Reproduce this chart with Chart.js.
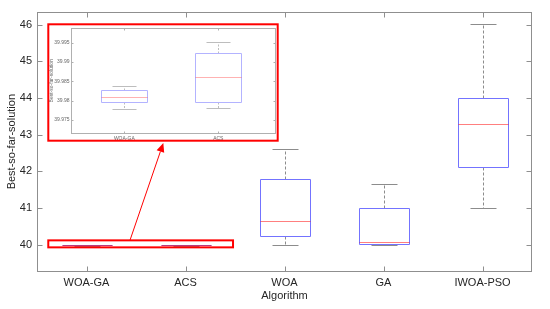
<!DOCTYPE html>
<html>
<head>
<meta charset="utf-8">
<script src="https://cdn.jsdelivr.net/npm/chart.js@4.4.0/dist/chart.umd.min.js"></script>
<style>
  body { margin: 0; background: #fff; }
  #wrap { position: relative; width: 550px; height: 309px; }
  #main { position: absolute; left: 0; top: 0; }
  #inset { position: absolute; left: 47px; top: 23px; background: #fff; }
</style>
</head>
<body>
<div id="wrap">
  <canvas id="main" width="550" height="309"></canvas>
  <canvas id="inset" width="232" height="119"></canvas>
</div>
<script>
//-------------------------- dados --------------------------
const algorithms = ["WOA-GA", "ACS", "WOA", "GA", "IWOA-PSO"];
const whiskerLow = [39.9778, 39.9780, 39.99, 40.0, 41.0];
const q1 = [39.9797, 39.9797, 40.245, 40.01, 42.13];
const median = [39.9809, 39.9861, 40.65, 40.065, 43.29];
const q3 = [39.9828, 39.9923, 41.8, 40.99, 44.0];
const whiskerHigh = [39.9837, 39.9952, 42.6, 41.65, 46.03];

const yTicks = [40, 41, 42, 43, 44, 45, 46];
const insetCategories = ["WOA-GA", "ACS"];
const insetTicks = [39.975, 39.98, 39.985, 39.99, 39.995];

const FONT = "'Liberation Sans', Arial, Helvetica, sans-serif";

// alinha linhas de 1px ao centro do pixel
const snap = (v) => Math.round(v) + 0.5;

//-------------------------- plugin boxplot --------------------------
const boxPlot = {
    id: "boxPlot",
    afterDatasetsDraw(chart, args, opts) {
        const { ctx, chartArea: area } = chart;
        const x = chart.scales.x;
        const y = chart.scales.y;

        ctx.save();
        ctx.beginPath();
        ctx.rect(area.left, area.top, area.right - area.left, area.bottom - area.top);
        ctx.clip();

        for (let i = 0; i < opts.count; i++) {
            const cx = snap(x.getPixelForValue(i + 1));
            const half = Math.round(x.getPixelForValue(i + 1.25) - x.getPixelForValue(i + 1));
            const capHalf = Math.round(half / 2);
            const yLow = snap(y.getPixelForValue(whiskerLow[i]));
            const yQ1 = snap(y.getPixelForValue(q1[i]));
            const yMed = snap(y.getPixelForValue(median[i]));
            const yQ3 = snap(y.getPixelForValue(q3[i]));
            const yHigh = snap(y.getPixelForValue(whiskerHigh[i]));

            // bigodes
            ctx.strokeStyle = opts.whiskerColor;
            ctx.lineWidth = 1;
            ctx.setLineDash(opts.dash);
            ctx.beginPath();
            ctx.moveTo(cx, yQ3);
            ctx.lineTo(cx, yHigh);
            ctx.moveTo(cx, yQ1);
            ctx.lineTo(cx, yLow);
            ctx.stroke();
            ctx.setLineDash([]);

            ctx.beginPath();
            ctx.moveTo(cx - capHalf, yHigh);
            ctx.lineTo(cx + capHalf, yHigh);
            ctx.moveTo(cx - capHalf, yLow);
            ctx.lineTo(cx + capHalf, yLow);
            ctx.stroke();

            // caixa
            ctx.strokeStyle = opts.boxColor;
            ctx.beginPath();
            ctx.moveTo(cx - half, yQ3);
            ctx.lineTo(cx + half, yQ3);
            if (yQ1 !== yQ3) {
                ctx.lineTo(cx + half, yQ1);
                ctx.lineTo(cx - half, yQ1);
                ctx.closePath();
            }
            ctx.stroke();

            // mediana
            ctx.strokeStyle = opts.medianColor;
            ctx.beginPath();
            ctx.moveTo(cx - half, yMed);
            ctx.lineTo(cx + half, yMed);
            ctx.stroke();
        }
        ctx.restore();

        // moldura com ticks para dentro
        ctx.save();
        ctx.strokeStyle = opts.axisColor;
        ctx.lineWidth = 1;
        const L = Math.round(area.left) + 0.5;
        const R = Math.round(area.right) - 0.5;
        const T = Math.round(area.top) + 0.5;
        const B = Math.round(area.bottom) - 0.5;
        ctx.strokeRect(L, T, R - L, B - T);
        ctx.beginPath();
        x.ticks.forEach((t) => {
            const px = snap(x.getPixelForValue(t.value));
            ctx.moveTo(px, B);
            ctx.lineTo(px, B - opts.tickLen);
            ctx.moveTo(px, T);
            ctx.lineTo(px, T + opts.tickLen);
        });
        y.ticks.forEach((t) => {
            const py = snap(y.getPixelForValue(t.value));
            ctx.moveTo(L, py);
            ctx.lineTo(L + opts.tickLen, py);
            ctx.moveTo(R, py);
            ctx.lineTo(R - opts.tickLen, py);
        });
        ctx.stroke();
        ctx.restore();
    },
};

//-------------------------- destaque (retângulo + seta) --------------------------
const destaque = {
    id: "destaque",
    afterDraw(chart) {
        const { ctx } = chart;
        const x = chart.scales.x;
        const y = chart.scales.y;

        const x0 = x.getPixelForValue(0.614);
        const x1 = x.getPixelForValue(2.48);
        const y0 = y.getPixelForValue(40.12);
        const y1 = y.getPixelForValue(39.929);

        ctx.save();
        ctx.strokeStyle = "#ff0000";
        ctx.lineWidth = 2;
        ctx.strokeRect(x0, y0, x1 - x0, y1 - y0);

        const ax = x.getPixelForValue(1.439);
        const ay = y0;
        const tx = x.getPixelForValue(1.776);
        const ty = y.getPixelForValue(42.777);
        const ang = Math.atan2(ty - ay, tx - ax);
        const len = 9;
        const wid = 4;
        const bx = tx - Math.cos(ang) * len;
        const by = ty - Math.sin(ang) * len;

        ctx.lineWidth = 1;
        ctx.beginPath();
        ctx.moveTo(ax, ay);
        ctx.lineTo(bx, by);
        ctx.stroke();

        ctx.fillStyle = "#ff0000";
        ctx.beginPath();
        ctx.moveTo(tx, ty);
        ctx.lineTo(bx + Math.sin(ang) * wid, by - Math.cos(ang) * wid);
        ctx.lineTo(bx - Math.sin(ang) * wid, by + Math.cos(ang) * wid);
        ctx.closePath();
        ctx.fill();
        ctx.restore();
    },
};

const bordaVermelha = {
    id: "bordaVermelha",
    afterDraw(chart) {
        const { ctx, width, height } = chart;
        ctx.save();
        ctx.strokeStyle = "#ff0000";
        ctx.lineWidth = 2;
        ctx.strokeRect(1.3, 1.3, width - 2.6, height - 2.6);
        ctx.restore();
    },
};

//-------------------------- gráfico principal --------------------------
new Chart(document.getElementById("main"), {
    type: "scatter",
    data: {
        datasets: [
            {
                data: median.map((m, i) => ({ x: i + 1, y: m })),
                pointRadius: 0,
                showLine: false,
            },
        ],
    },
    options: {
        responsive: false,
        animation: false,
        layout: { padding: { left: 0, top: 11, right: 18, bottom: 0 } },
        plugins: {
            legend: { display: false },
            tooltip: { enabled: false },
            boxPlot: {
                count: 5,
                boxColor: "#7373ff",
                medianColor: "rgba(255, 0, 0, 0.5)",
                whiskerColor: "#8c8c8c",
                axisColor: "#8f8f8f",
                dash: [3, 2],
                tickLen: 5,
            },
        },
        scales: {
            x: {
                type: "linear",
                min: 0.5,
                max: 5.5,
                afterBuildTicks: (ax) => {
                    ax.ticks = algorithms.map((_, i) => ({ value: i + 1 }));
                },
                afterFit: (s) => {
                    s.height = 37.3;
                },
                ticks: {
                    callback: (v, i) => algorithms[i],
                    autoSkip: false,
                    maxRotation: 0,
                    padding: 5,
                    color: "#262626",
                    font: { family: FONT, size: 11 },
                },
                grid: { display: false, drawTicks: false },
                border: { display: false },
                title: {
                    display: true,
                    text: "Algorithm",
                    color: "#262626",
                    font: { family: FONT, size: 11 },
                    padding: { top: 0, bottom: 6 },
                },
            },
            y: {
                min: 39.265,
                max: 46.36,
                afterBuildTicks: (ax) => {
                    ax.ticks = yTicks.map((v) => ({ value: v }));
                },
                afterFit: (s) => {
                    s.width = 37;
                },
                ticks: {
                    callback: (v, i) => String(yTicks[i]),
                    padding: 5,
                    color: "#262626",
                    font: { family: FONT, size: 11 },
                },
                grid: { display: false, drawTicks: false },
                border: { display: false },
                title: {
                    display: true,
                    text: "Best-so-far-solution",
                    color: "#262626",
                    font: { family: FONT, size: 11 },
                    padding: { top: 5, bottom: 0 },
                },
            },
        },
    },
    plugins: [boxPlot, destaque],
});

//-------------------------- gráfico ampliado --------------------------
new Chart(document.getElementById("inset"), {
    type: "scatter",
    data: {
        datasets: [
            {
                data: insetCategories.map((_, i) => ({ x: i + 1, y: median[i] })),
                pointRadius: 0,
                showLine: false,
            },
        ],
    },
    options: {
        responsive: false,
        animation: false,
        layout: { padding: { left: 0, top: 3.3, right: 3, bottom: 0 } },
        plugins: {
            legend: { display: false },
            tooltip: { enabled: false },
            boxPlot: {
                count: 2,
                boxColor: "#b3b3ff",
                medianColor: "rgba(255, 0, 0, 0.3)",
                whiskerColor: "#bdbdbd",
                axisColor: "#b0b0b0",
                dash: [2, 1.5],
                tickLen: 2,
            },
        },
        scales: {
            x: {
                type: "linear",
                min: 0.433,
                max: 2.614,
                afterBuildTicks: (ax) => {
                    ax.ticks = insetCategories.map((_, i) => ({ value: i + 1 }));
                },
                afterFit: (s) => {
                    s.height = 8;
                },
                ticks: {
                    callback: (v, i) => insetCategories[i],
                    autoSkip: false,
                    maxRotation: 0,
                    padding: 2,
                    color: "#666",
                    font: { family: FONT, size: 5 },
                },
                grid: { display: false, drawTicks: false },
                border: { display: false },
            },
            y: {
                min: 39.97136,
                max: 39.99897,
                afterBuildTicks: (ax) => {
                    ax.ticks = insetTicks.map((v) => ({ value: v }));
                },
                afterFit: (s) => {
                    s.width = 24;
                },
                ticks: {
                    callback: (v, i) => String(insetTicks[i]),
                    padding: 1.5,
                    color: "#666",
                    font: { family: FONT, size: 5 },
                },
                grid: { display: false, drawTicks: false },
                border: { display: false },
                title: {
                    display: true,
                    text: "Best-so-far-solution",
                    color: "#666",
                    font: { family: FONT, size: 5 },
                    padding: { top: 2, bottom: 0 },
                },
            },
        },
    },
    plugins: [boxPlot, bordaVermelha],
});
</script>
</body>
</html>
